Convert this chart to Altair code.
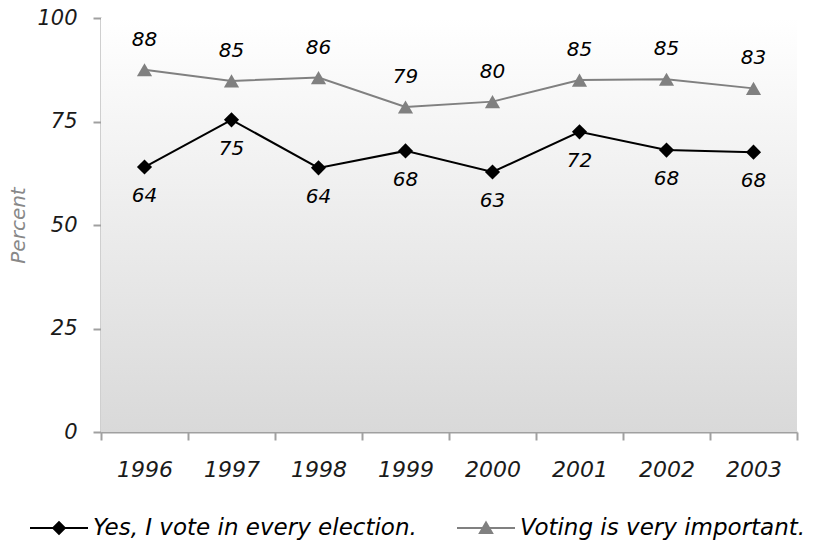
import altair as alt
import pandas as pd

years = ["1996", "1997", "1998", "1999", "2000", "2001", "2002", "2003"]
vote_every = [64.0, 75.4, 63.8, 67.9, 62.8, 72.5, 68.1, 67.6]
vote_every_labels = ["64", "75", "64", "68", "63", "72", "68", "68"]
very_important = [87.5, 84.8, 85.6, 78.5, 79.8, 85.0, 85.2, 83.0]
very_important_labels = ["88", "85", "86", "79", "80", "85", "85", "83"]

S1 = "Yes, I vote in every election."
S2 = "Voting is very important."

rows = []
for y, v, l in zip(years, vote_every, vote_every_labels):
    rows.append({"year": y, "value": v, "label": l, "series": S1})
for y, v, l in zip(years, very_important, very_important_labels):
    rows.append({"year": y, "value": v, "label": l, "series": S2})
df = pd.DataFrame(rows)

FONT = "DejaVu Sans"
W, H = 696, 414
COLORS = ["#000000", "#808080"]

xenc = alt.X(
    "year:O",
    bandPosition=0.5,
    scale=alt.Scale(type="band", paddingInner=0, paddingOuter=0),
    axis=alt.Axis(
        title=None, labelAngle=0, tickBand="extent", labelFont=FONT,
        labelFontSize=22, labelFontStyle="italic", labelColor="#1a1a1a",
        labelPadding=19, domainColor="#a0a0a0", domainWidth=2,
        tickColor="#a0a0a0", tickWidth=2, tickSize=8, grid=False,
    ),
)
yenc = alt.Y(
    "value:Q",
    scale=alt.Scale(domain=[0, 100], nice=False, zero=True),
    axis=alt.Axis(
        title="Percent", values=[0, 25, 50, 75, 100], labelFont=FONT,
        labelFontSize=21, labelFontStyle="italic", labelColor="#1a1a1a",
        labelPadding=16, domainColor="#a0a0a0", domainWidth=2,
        tickColor="#a0a0a0", tickWidth=2, tickSize=8, grid=False,
        titleFont=FONT, titleFontSize=20, titleFontStyle="italic",
        titleFontWeight="normal", titleColor="#888888", titlePadding=8,
    ),
)

# legend symbols: a short line (thin filled bar) with the marker on it
BAR = "M-1,-0.036L1,-0.036L1,0.036L-1,0.036Z"
DIAMOND_PATH = BAR + "M0,-0.25L0.25,0L0,0.25L-0.25,0Z"
TRIANGLE_PATH = BAR + "M0,-0.26L0.27,0.21L-0.27,0.21Z"
LEGEND_PATHS = [DIAMOND_PATH, TRIANGLE_PATH]
LEGEND_X = [-71, 356]


def make_legend(lx, color):
    return alt.Legend(
        title=None, orient="none", legendX=lx, legendY=481, direction="horizontal",
        symbolSize=3364, symbolStrokeWidth=0, symbolOpacity=1,
        symbolFillColor=color, symbolStrokeColor=color, labelFont=FONT,
        labelFontSize=23, labelFontStyle="italic", labelColor="#000000",
        labelOffset=5, labelLimit=0, padding=0,
    )


bg = alt.Chart(pd.DataFrame({"a": [0]})).mark_rect(
    color=alt.LinearGradient(
        gradient="linear",
        stops=[alt.GradientStop(color="#ffffff", offset=0),
               alt.GradientStop(color="#d9d9d9", offset=1)],
        x1=0, x2=0, y1=0, y2=1,
    )
).encode(x=alt.value(0), x2=alt.value(W), y=alt.value(0), y2=alt.value(H))

base = alt.Chart(df)
color_scale = alt.Scale(domain=[S1, S2], range=COLORS)

lines = base.mark_line(strokeWidth=2).encode(
    x=xenc, y=yenc,
    color=alt.Color("series:N", scale=color_scale, legend=None),
)

points = base.mark_point(filled=True, opacity=1, size=230).encode(
    x=xenc, y=yenc,
    color=alt.Color("series:N", scale=color_scale, legend=None),
    shape=alt.Shape("series:N", scale=alt.Scale(domain=[S1, S2], range=["diamond", "triangle-up"]), legend=None),
)

legend_layers = []
for s, path, lx, col in zip([S1, S2], LEGEND_PATHS, LEGEND_X, COLORS):
    legend_layers.append(
        base.transform_filter(alt.datum.series == s).mark_point(
            opacity=0, size=10, fill=col, stroke=col, strokeWidth=0
        ).encode(
            x=xenc, y=yenc,
            shape=alt.Shape("series:N", scale=alt.Scale(domain=[s], range=[path]),
                            legend=make_legend(lx, col)),
        )
    )

text_low = base.transform_filter(alt.datum.series == S1).mark_text(
    dy=29, font=FONT, fontSize=20, fontStyle="italic", color="#000000"
).encode(x=xenc, y=yenc, text="label:N")

text_high = base.transform_filter(alt.datum.series == S2).mark_text(
    dy=-30, font=FONT, fontSize=20, fontStyle="italic", color="#000000"
).encode(x=xenc, y=yenc, text="label:N")

chart = alt.layer(bg, lines, points, *legend_layers, text_low, text_high).resolve_scale(
    shape="independent"
).resolve_legend(shape="independent").properties(
    width=W, height=H,
    padding={"left": 93, "top": 10, "right": 11, "bottom": 108},
    autosize=alt.AutoSizeParams(type="none"),
).configure_view(stroke=None)

chart.save("out.html", embed_options={"renderer": "svg", "actions": False})
